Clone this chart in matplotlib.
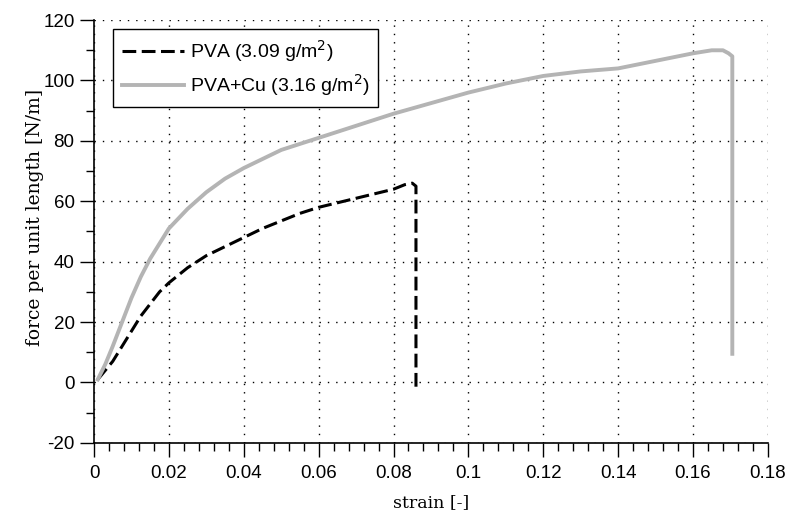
import matplotlib
matplotlib.use("Agg")
import matplotlib.pyplot as plt
from matplotlib.ticker import MultipleLocator

plt.rcParams["axes.unicode_minus"] = False

# PVA (3.09 g/m2), dashed black
pva_strain = [0.001, 0.003, 0.005, 0.0075, 0.01, 0.0125, 0.015, 0.0175, 0.02,
              0.025, 0.03, 0.035, 0.04, 0.045, 0.05, 0.055, 0.06, 0.065, 0.07,
              0.075, 0.08, 0.083, 0.085, 0.086, 0.086]
pva_force = [1, 4, 7, 12, 17, 22, 26, 30, 33,
             38, 42, 45, 48, 51, 53.5, 56, 58, 59.5, 61,
             62.5, 64, 65.5, 66, 65, -2]

# PVA+Cu (3.16 g/m2), grey
cu_strain = [0.001, 0.003, 0.005, 0.0075, 0.01, 0.0125, 0.015, 0.0175, 0.02,
             0.025, 0.03, 0.035, 0.04, 0.045, 0.05, 0.06, 0.07, 0.08, 0.09,
             0.1, 0.11, 0.12, 0.13, 0.14, 0.15, 0.16, 0.165, 0.168, 0.1695,
             0.1705, 0.1705]
cu_force = [1, 6, 12, 20, 28, 35, 41, 46, 51,
            57.5, 63, 67.5, 71, 74, 77, 81, 85, 89, 92.5,
            96, 99, 101.5, 103, 104, 106.5, 109, 110, 110, 109,
            108, 9.5]

xtick_vals = [0, 0.02, 0.04, 0.06, 0.08, 0.1, 0.12, 0.14, 0.16, 0.18]
xtick_labels = ["0", "0.02", "0.04", "0.06", "0.08", "0.1", "0.12",
                "0.14", "0.16", "0.18"]

fig = plt.figure(figsize=(7.9, 5.15), dpi=100)
ax = fig.add_axes([0.119, 0.140, 0.853, 0.821])

ax.plot(pva_strain, pva_force, color="black", linestyle=(0, (4.5, 1.8)),
        linewidth=2.2, label="PVA (3.09 g/m$^2$)")
ax.plot(cu_strain, cu_force, color="#b4b4b4", linewidth=2.8,
        label="PVA+Cu (3.16 g/m$^2$)")

ax.set_xlim(0, 0.18)
ax.set_ylim(-20, 120)
ax.xaxis.set_minor_locator(MultipleLocator(0.004))
ax.yaxis.set_major_locator(MultipleLocator(20))
ax.yaxis.set_minor_locator(MultipleLocator(10))
ax.set_xticks(xtick_vals)
ax.set_xticklabels(xtick_labels)

# dotted grid, only left/bottom axis lines
ax.grid(True, which="major", color="black", linestyle=(0, (1, 5)), linewidth=1)
ax.spines["top"].set_visible(False)
ax.spines["right"].set_visible(False)
ax.spines["left"].set_linewidth(1.2)
ax.spines["bottom"].set_linewidth(1.2)
ax.tick_params(which="major", direction="out", length=10, width=1,
               labelsize=13.5)
ax.tick_params(which="minor", direction="out", length=5.5, width=1)
ax.tick_params(axis="x", which="major", pad=6)
ax.tick_params(axis="y", which="major", pad=4)
for lab in ax.get_xticklabels() + ax.get_yticklabels():
    lab.set_family("Liberation Sans")

ax.set_xlabel("strain [-]", family="DejaVu Serif", fontsize=12.5)
ax.set_ylabel("force per unit length [N/m]", family="DejaVu Serif",
              fontsize=13.5)
ax.xaxis.set_label_coords(0.5, -0.12)
ax.yaxis.set_label_coords(-0.074, 0.534)

leg = ax.legend(loc="upper left", bbox_to_anchor=(0.028, 0.979),
                borderaxespad=0,
                prop={"family": "Liberation Sans", "size": 14},
                fancybox=False, framealpha=1, edgecolor="black",
                handlelength=3.2, handletextpad=0.3, borderpad=0.45,
                labelspacing=0.45)
leg.get_frame().set_linewidth(1)

fig.savefig("out.png", dpi=100)
